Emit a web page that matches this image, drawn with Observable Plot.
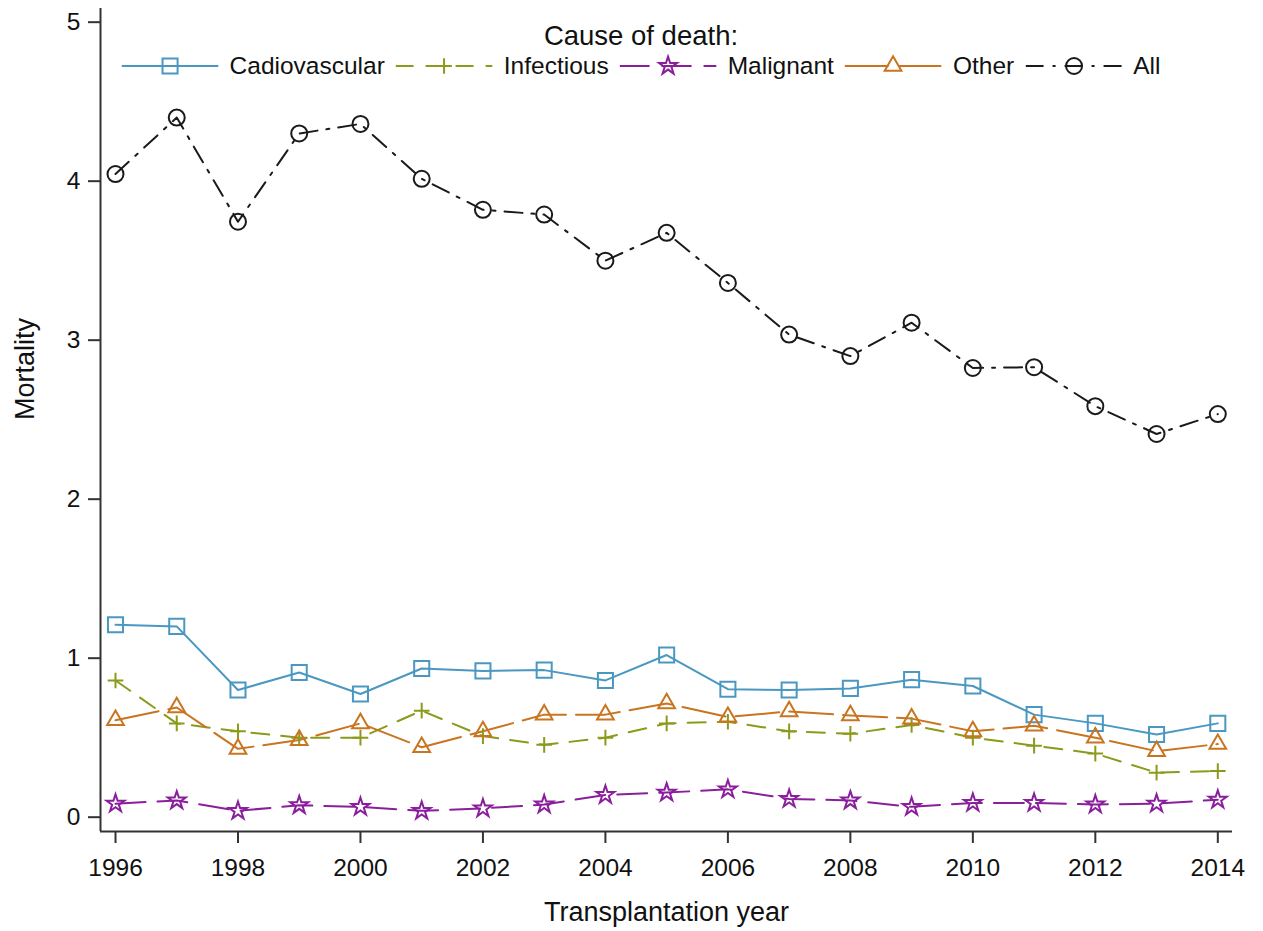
<!DOCTYPE html>
<html>
<head>
<meta charset="utf-8">
<script src="https://cdn.jsdelivr.net/npm/d3@7"></script>
<script src="https://cdn.jsdelivr.net/npm/@observablehq/plot@0.6"></script>
<style>
  body { margin: 0; background: #fff; font-family: "Liberation Sans", Arial, sans-serif; }
  #wrap { position: relative; width: 1263px; height: 931px; }
  #legendTitle { position: absolute; left: 641px; top: 21.7px; transform: translateX(-50%);
    font-size: 27.5px; line-height: 27.5px; color: #111; white-space: nowrap; }
  #legendRow { position: absolute; left: 641px; top: 53px; transform: translateX(-50%);
    display: flex; align-items: center; gap: 11px; font-size: 24.5px; line-height: 26px; color: #111; white-space: nowrap; }
  .item { display: flex; align-items: center; gap: 11px; }
  .item svg { display: block; }
</style>
</head>
<body>
<div id="wrap">
  <div id="legendTitle"></div>
  <div id="legendRow"></div>
</div>
<script>
// ---- data ----
const years = [1996,1997,1998,1999,2000,2001,2002,2003,2004,2005,2006,2007,2008,2009,2010,2011,2012,2013,2014];
const cardiovascular = [1.21,1.20,0.80,0.91,0.775,0.935,0.92,0.925,0.86,1.02,0.805,0.80,0.81,0.865,0.825,0.645,0.59,0.52,0.59];
const infectious     = [0.86,0.59,0.54,0.50,0.50,0.67,0.51,0.455,0.50,0.59,0.60,0.54,0.525,0.58,0.50,0.45,0.40,0.28,0.29];
const malignant      = [0.085,0.105,0.04,0.075,0.065,0.04,0.055,0.08,0.14,0.155,0.175,0.115,0.105,0.065,0.09,0.09,0.08,0.085,0.11];
const other          = [0.61,0.69,0.43,0.485,0.59,0.44,0.54,0.645,0.645,0.715,0.63,0.665,0.64,0.62,0.54,0.575,0.50,0.415,0.46];
const allCauses      = [4.045,4.40,3.745,4.30,4.36,4.015,3.82,3.79,3.50,3.675,3.36,3.035,2.90,3.11,2.825,2.83,2.585,2.41,2.535];

const seriesNames = ["Cadiovascular","Infectious","Malignant","Other","All"];
const seriesValues = [cardiovascular, infectious, malignant, other, allCauses];
const xTicks = [1996,1998,2000,2002,2004,2006,2008,2010,2012,2014];
const yTicks = [0,1,2,3,4,5];
const legendTitle = "Cause of death:";
const xTitle = "Transplantation year";
const yTitle = "Mortality";

// ---- styles ----
const styles = [
  {color: "#4a98c2", symbol: "square",   r: 8.5, dash: null},
  {color: "#8c9a1a", symbol: "plus",     r: 5.1, dash: "18,12"},
  {color: "#8b1e9c", symbol: "star",     r: 5.6, dash: "30,12"},
  {color: "#c9741f", symbol: "triangle", r: 6.2, dash: "44,10"},
  {color: "#1a1a1a", symbol: "circle",   r: 8.0, dash: "18,9,3,9"}
];
const lineWidth = 2;

const tables = seriesValues.map(vals => years.map((y, i) => ({year: y, value: vals[i]})));

const xDomain = [1995.755, 2014.24];
const yDomain = [-0.09, 5.086];
const axisColor = "#333";

const marks = [];
tables.forEach((rows, i) => {
  const s = styles[i];
  marks.push(Plot.line(rows, {x: "year", y: "value", stroke: s.color, strokeWidth: lineWidth,
    strokeDasharray: s.dash || undefined}));
});
tables.forEach((rows, i) => {
  const s = styles[i];
  marks.push(Plot.dot(rows, {x: "year", y: "value", symbol: s.symbol, r: s.r,
    stroke: s.color, fill: "none", strokeWidth: lineWidth}));
});

const chart = Plot.plot({
  width: 1263,
  height: 931,
  marginLeft: 100,
  marginRight: 31,
  marginTop: 8,
  marginBottom: 100,
  style: {fontFamily: '"Liberation Sans", Arial, sans-serif', fontSize: "24px", color: "#111", background: "#fff"},
  x: {domain: xDomain},
  y: {domain: yDomain},
  marks: [
    Plot.axisX({ticks: xTicks, tickFormat: d => String(d), tickSize: 12, tickPadding: 15,
      stroke: axisColor, strokeWidth: 2, label: null, fontSize: 24.5}),
    Plot.axisY({ticks: yTicks, tickFormat: d => String(d), tickSize: 12, tickPadding: 8,
      stroke: axisColor, strokeWidth: 2, label: null, fontSize: 24.5}),
    Plot.ruleX([xDomain[0]], {stroke: axisColor, strokeWidth: 2}),
    Plot.ruleY([yDomain[0]], {stroke: axisColor, strokeWidth: 2}),
    ...marks,
    Plot.text([xTitle], {text: d => d, frameAnchor: "bottom", dy: 80.5, fontSize: 27, lineAnchor: "middle", fill: "#111"}),
    Plot.text([yTitle], {text: d => d, frameAnchor: "left", dx: -75, rotate: -90, fontSize: 27, lineAnchor: "middle", fill: "#111"})
  ]
});
document.getElementById("wrap").prepend(chart);

// ---- legend (HTML overlay) ----
document.getElementById("legendTitle").textContent = legendTitle;
const row = document.getElementById("legendRow");
const symbolMap = {square: d3.symbolSquare, plus: d3.symbolPlus, star: d3.symbolStar, triangle: d3.symbolTriangle, circle: d3.symbolCircle};
seriesNames.forEach((name, i) => {
  const s = styles[i];
  const item = document.createElement("div");
  item.className = "item";
  const W = 97, H = 24;
  const svg = d3.create("svg").attr("width", W).attr("height", H);
  svg.append("line").attr("x1", 0).attr("x2", W).attr("y1", H/2).attr("y2", H/2)
    .attr("stroke", s.color).attr("stroke-width", lineWidth)
    .attr("stroke-dasharray", s.dash || null);
  svg.append("path").attr("d", d3.symbol(symbolMap[s.symbol], Math.PI * s.r * s.r)())
    .attr("transform", `translate(${W/2},${H/2})`)
    .attr("fill", "none").attr("stroke", s.color).attr("stroke-width", lineWidth);
  item.appendChild(svg.node());
  const label = document.createElement("span");
  label.textContent = name;
  item.appendChild(label);
  row.appendChild(item);
});
</script>
</body>
</html>
